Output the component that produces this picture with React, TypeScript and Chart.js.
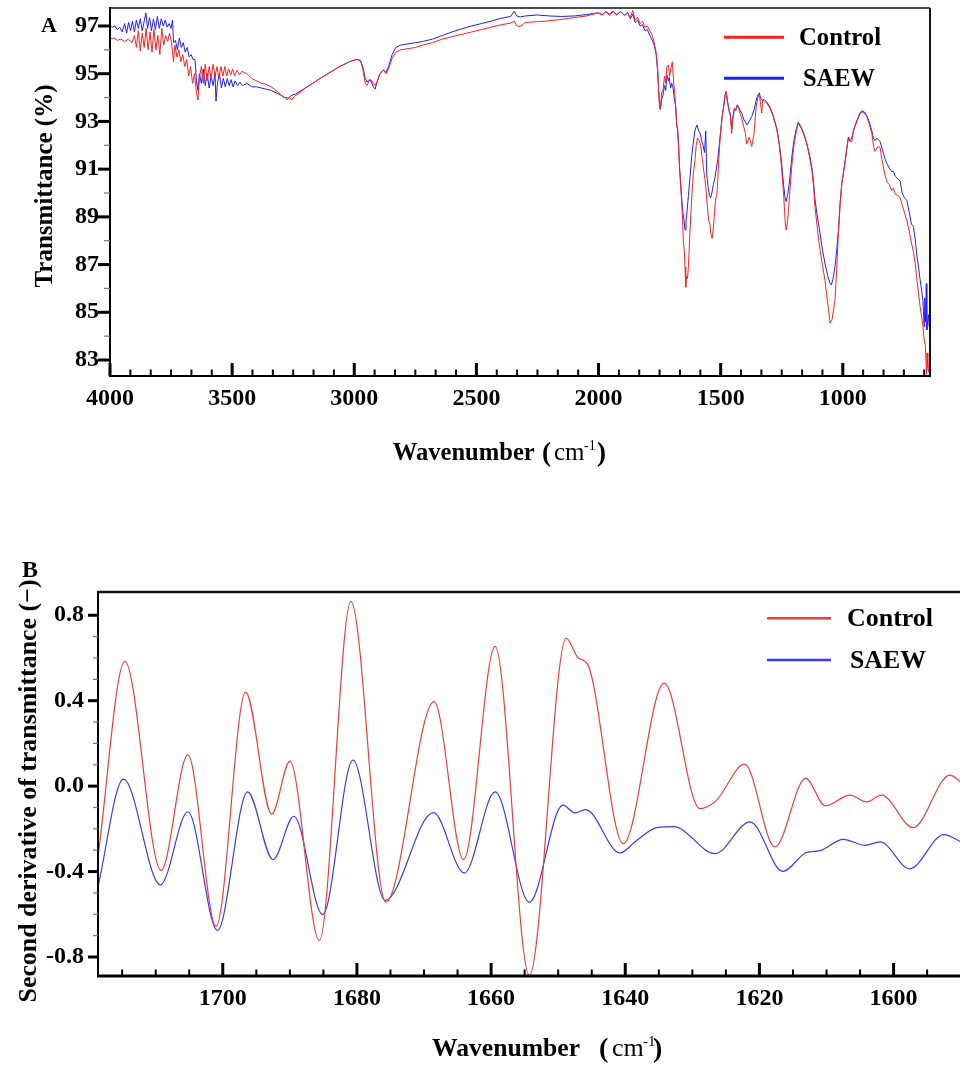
import React, { useEffect, useRef } from "react";
import { Chart, registerables } from "chart.js";

Chart.register(...registerables);

const SERIF = '"Liberation Serif", "Times New Roman", Times, serif';
const RED = "#ff1f1f";
const BLUE = "#1f1fff";
const RED_B = "#f23a3a";
const BLUE_B = "#3a3af2";
const seriesNames = ["Control", "SAEW"];

// ---------------- Panel A: FTIR spectra (wavenumber, transmittance %) ----------------
const ftirControl: [number, number][] = [
  [4000, 96.45], [3985, 96.5], [3970, 96.4], [3955, 96.45], [3940, 96.35], [3925, 96.45], [3910, 96.3],
  [3900, 96.6], [3892, 96.1], [3884, 96.8], [3876, 95.95], [3868, 96.7], [3860, 96.1], [3852, 96.9],
  [3844, 96.0], [3836, 96.75], [3828, 95.9], [3820, 96.85], [3812, 96.0], [3804, 96.6], [3796, 95.8],
  [3788, 96.9], [3780, 96.2], [3772, 96.6], [3764, 96.35], [3756, 96.7], [3748, 96.3], [3740, 95.5],
  [3734, 96.2], [3726, 95.7], [3718, 96.0], [3710, 95.5], [3702, 95.8], [3694, 95.3], [3686, 95.6],
  [3678, 94.9], [3670, 95.3], [3662, 94.6], [3654, 95.0], [3646, 94.2], [3640, 93.9], [3634, 94.8],
  [3626, 95.3], [3618, 94.6], [3610, 95.4], [3602, 94.7], [3594, 95.3], [3586, 94.8], [3578, 95.4],
  [3570, 94.9], [3562, 95.3], [3554, 94.8], [3546, 95.3], [3538, 94.9], [3530, 95.3], [3522, 94.9],
  [3514, 95.2], [3506, 94.95], [3498, 95.2], [3490, 94.9], [3480, 95.15], [3470, 94.95], [3460, 95.1],
  [3440, 95.0], [3420, 94.8], [3400, 94.7], [3380, 94.6], [3360, 94.55], [3340, 94.45], [3320, 94.3],
  [3300, 94.1], [3285, 94.0], [3275, 93.9], [3265, 94.0], [3255, 93.9], [3245, 94.05], [3230, 94.15],
  [3200, 94.4], [3170, 94.6], [3140, 94.8], [3100, 95.05], [3060, 95.3], [3020, 95.5], [2990, 95.6],
  [2975, 95.55], [2965, 95.2], [2955, 94.6], [2948, 94.5], [2940, 94.7], [2932, 94.75], [2922, 94.6],
  [2915, 94.5], [2905, 94.7], [2895, 95.0], [2880, 95.15], [2870, 95.0], [2860, 95.2], [2845, 95.65],
  [2830, 95.9], [2810, 96.0], [2780, 96.05], [2750, 96.1], [2720, 96.2], [2680, 96.3], [2640, 96.45],
  [2600, 96.55], [2560, 96.65], [2520, 96.75], [2480, 96.85], [2440, 96.95], [2400, 97.05], [2360, 97.12],
  [2345, 97.2], [2335, 97.0], [2320, 96.98], [2300, 97.15], [2250, 97.18], [2200, 97.22], [2150, 97.28],
  [2100, 97.35], [2050, 97.42], [2020, 97.5], [2000, 97.55], [1985, 97.45], [1970, 97.6], [1955, 97.45],
  [1940, 97.6], [1925, 97.45], [1910, 97.62], [1895, 97.45], [1880, 97.55], [1870, 97.35], [1860, 97.65],
  [1850, 97.25], [1840, 97.35], [1830, 97.1], [1820, 97.2], [1810, 96.95], [1800, 97.0], [1790, 96.8],
  [1780, 96.6], [1772, 96.3], [1764, 95.9], [1758, 95.2], [1754, 94.4], [1750, 93.6], [1747, 93.5],
  [1742, 94.2], [1736, 94.3], [1730, 94.9], [1725, 94.6], [1720, 95.3], [1714, 95.37], [1709, 94.9],
  [1704, 95.2], [1698, 95.5], [1692, 94.6], [1688, 94.2], [1684, 93.6], [1680, 92.9], [1676, 92.7],
  [1673, 92.1], [1668, 91.0], [1664, 90.3], [1660, 89.7], [1656, 88.9], [1653, 88.0], [1649, 87.6],
  [1646, 86.9], [1643, 86.05], [1640, 86.5], [1636, 86.4], [1632, 86.9], [1626, 88.3], [1619, 89.7],
  [1612, 90.8], [1605, 91.4], [1600, 92.0], [1595, 92.3], [1588, 92.2], [1582, 92.0], [1576, 91.5],
  [1570, 91.0], [1565, 90.6], [1561, 90.25], [1555, 89.5], [1549, 88.85], [1544, 88.7], [1540, 88.3],
  [1535, 88.1], [1530, 88.5], [1525, 89.2], [1521, 89.7], [1515, 90.0], [1510, 90.9], [1505, 91.9],
  [1500, 92.5], [1494, 93.2], [1488, 93.6], [1482, 94.1], [1478, 94.25], [1472, 93.8], [1466, 93.45],
  [1460, 93.2], [1455, 92.5], [1450, 93.1], [1444, 93.5], [1438, 93.45], [1432, 93.65], [1426, 93.55],
  [1420, 93.3], [1414, 93.15], [1406, 92.8], [1400, 92.55], [1393, 92.05], [1383, 92.35], [1373, 91.95],
  [1363, 92.5], [1355, 93.6], [1348, 94.0], [1342, 94.15], [1336, 93.7], [1332, 93.35], [1328, 93.9],
  [1320, 93.85], [1310, 93.75], [1298, 93.55], [1285, 93.2], [1270, 92.65], [1260, 92.0], [1250, 91.0],
  [1242, 89.9], [1236, 88.8], [1232, 88.45], [1226, 88.8], [1218, 89.9], [1210, 91.0], [1200, 92.0],
  [1190, 92.6], [1182, 92.92], [1170, 92.7], [1160, 92.45], [1148, 92.08], [1138, 91.6], [1127, 91.0],
  [1120, 90.3], [1114, 89.43], [1104, 88.5], [1093, 87.6], [1083, 86.95], [1073, 86.35], [1062, 85.4],
  [1052, 84.55], [1044, 84.7], [1032, 85.5], [1025, 86.8], [1018, 88.3], [1011, 89.5], [1004, 90.4],
  [997, 90.85], [991, 91.25], [984, 91.8], [977, 92.3], [970, 92.15], [963, 92.15], [956, 92.6],
  [950, 92.78], [940, 93.05], [930, 93.3], [922, 93.4], [912, 93.35], [902, 93.2], [892, 92.9],
  [881, 92.5], [874, 91.95], [868, 91.75], [860, 91.9], [852, 91.95], [847, 91.9], [840, 91.4],
  [832, 91.0], [826, 90.7], [818, 90.45], [810, 90.35], [800, 90.1], [793, 90.2], [785, 89.95],
  [775, 89.9], [765, 89.8], [757, 89.5], [748, 89.2], [738, 88.85], [728, 88.4], [719, 87.9],
  [711, 87.55], [703, 87.0], [697, 86.4], [690, 85.8], [683, 85.2], [677, 84.8], [672, 84.4],
  [667, 83.85], [662, 83.6], [657, 82.4], [655, 83.3], [652, 82.7], [648, 82.5], [645, 83.1], [643, 82.4],
];

const ftirSaew: [number, number][] = [
  [4000, 97.0], [3990, 96.95], [3980, 97.0], [3970, 96.85], [3960, 96.95], [3950, 96.75], [3940, 97.1],
  [3932, 96.7], [3924, 97.15], [3916, 96.8], [3908, 97.2], [3900, 96.75], [3892, 97.25], [3884, 96.9],
  [3876, 97.3], [3868, 96.8], [3860, 97.2], [3853, 97.55], [3846, 96.9], [3838, 97.35], [3830, 96.8],
  [3822, 97.3], [3814, 96.85], [3806, 97.4], [3798, 96.9], [3790, 97.3], [3782, 97.0], [3774, 97.25],
  [3766, 96.95], [3758, 97.1], [3750, 96.9], [3744, 97.25], [3740, 96.3], [3732, 96.4], [3724, 96.0],
  [3716, 96.5], [3708, 96.1], [3700, 96.3], [3692, 95.9], [3684, 96.1], [3676, 95.7], [3668, 95.8],
  [3660, 95.6], [3652, 95.6], [3646, 94.7], [3640, 94.3], [3634, 95.0], [3626, 94.6], [3618, 95.2],
  [3610, 94.5], [3602, 95.0], [3594, 94.4], [3586, 94.9], [3578, 94.5], [3570, 95.0], [3566, 93.85],
  [3560, 94.6], [3552, 95.0], [3544, 94.4], [3536, 94.8], [3528, 94.45], [3520, 94.8], [3512, 94.5],
  [3504, 94.75], [3496, 94.45], [3488, 94.7], [3478, 94.5], [3468, 94.65], [3458, 94.5], [3440, 94.6],
  [3420, 94.45], [3400, 94.45], [3380, 94.4], [3360, 94.35], [3340, 94.3], [3320, 94.2], [3300, 94.1],
  [3285, 94.0], [3270, 93.98], [3255, 94.1], [3240, 94.15], [3200, 94.4], [3170, 94.6], [3140, 94.8],
  [3100, 95.05], [3060, 95.3], [3020, 95.5], [2990, 95.6], [2975, 95.55], [2965, 95.3], [2955, 94.8],
  [2948, 94.65], [2940, 94.75], [2932, 94.7], [2922, 94.45], [2915, 94.35], [2905, 94.7], [2895, 95.0],
  [2880, 95.15], [2870, 95.05], [2860, 95.3], [2845, 95.8], [2830, 96.1], [2810, 96.2], [2780, 96.25],
  [2750, 96.3], [2720, 96.35], [2680, 96.45], [2640, 96.6], [2600, 96.75], [2560, 96.88], [2520, 97.0],
  [2480, 97.1], [2440, 97.2], [2400, 97.32], [2360, 97.4], [2345, 97.62], [2335, 97.42], [2320, 97.38],
  [2300, 97.42], [2250, 97.46], [2200, 97.42], [2150, 97.4], [2100, 97.42], [2050, 97.48], [2020, 97.52],
  [2000, 97.55], [1985, 97.48], [1970, 97.6], [1955, 97.5], [1940, 97.62], [1925, 97.48], [1910, 97.6],
  [1895, 97.45], [1880, 97.55], [1870, 97.3], [1860, 97.5], [1850, 97.15], [1840, 97.25], [1830, 97.0],
  [1820, 97.05], [1810, 96.8], [1800, 96.85], [1790, 96.6], [1780, 96.4], [1772, 96.2], [1764, 95.8],
  [1758, 95.1], [1754, 94.3], [1750, 93.6], [1747, 93.5], [1742, 93.9], [1736, 94.1], [1730, 94.5],
  [1725, 94.3], [1720, 94.95], [1714, 94.7], [1710, 94.85], [1705, 94.4], [1700, 94.6], [1695, 94.4],
  [1690, 94.0], [1684, 93.6], [1680, 92.85], [1676, 92.6], [1673, 92.1], [1668, 91.0], [1664, 90.5],
  [1660, 89.85], [1655, 89.2], [1650, 88.87], [1646, 88.45], [1642, 88.8], [1637, 89.3], [1632, 89.9],
  [1626, 90.6], [1619, 91.5], [1612, 92.1], [1605, 92.64], [1597, 92.85], [1590, 92.6], [1584, 92.5],
  [1578, 92.2], [1572, 92.0], [1566, 91.7], [1561, 92.6], [1557, 90.8], [1552, 90.3], [1546, 89.9],
  [1541, 89.8], [1536, 90.0], [1530, 90.35], [1524, 90.6], [1518, 91.0], [1512, 91.4], [1506, 92.0],
  [1500, 92.6], [1494, 93.2], [1488, 93.6], [1482, 94.1], [1478, 94.25], [1472, 93.85], [1466, 93.5],
  [1460, 93.3], [1455, 92.7], [1450, 93.2], [1444, 93.55], [1438, 93.5], [1432, 93.7], [1426, 93.6],
  [1420, 93.45], [1414, 93.35], [1406, 93.1], [1400, 93.0], [1393, 92.85], [1383, 93.0], [1373, 93.2],
  [1363, 93.5], [1352, 94.0], [1342, 94.2], [1336, 93.95], [1330, 93.9], [1320, 93.9], [1310, 93.8],
  [1298, 93.6], [1285, 93.25], [1270, 92.7], [1260, 92.1], [1250, 91.2], [1242, 90.3], [1236, 89.8],
  [1232, 89.64], [1226, 89.9], [1218, 90.5], [1210, 91.4], [1200, 92.2], [1190, 92.7], [1182, 92.97],
  [1170, 92.75], [1160, 92.5], [1148, 92.1], [1138, 91.7], [1127, 91.1], [1120, 90.5], [1114, 89.75],
  [1104, 89.0], [1093, 88.3], [1083, 87.6], [1073, 87.06], [1062, 86.55], [1052, 86.2], [1047, 86.15],
  [1040, 86.4], [1032, 86.9], [1025, 87.6], [1018, 88.4], [1011, 89.6], [1004, 90.4], [997, 90.9],
  [991, 91.3], [984, 91.85], [977, 92.35], [970, 92.2], [963, 92.3], [956, 92.65], [950, 92.82],
  [940, 93.1], [930, 93.35], [922, 93.45], [912, 93.4], [902, 93.25], [892, 93.0], [881, 92.6],
  [875, 92.3], [868, 92.2], [860, 92.3], [852, 92.2], [847, 92.15], [840, 91.9], [832, 91.6],
  [826, 91.4], [818, 91.2], [810, 91.05], [800, 90.9], [793, 90.9], [785, 90.7], [775, 90.6],
  [765, 90.5], [757, 90.0], [748, 89.8], [738, 89.7], [728, 89.2], [719, 88.7], [711, 88.6],
  [703, 88.0], [697, 87.4], [690, 86.9], [684, 86.4], [677, 85.9], [672, 85.5], [667, 84.4],
  [665, 85.6], [662, 84.6], [658, 86.2], [656, 84.26], [652, 84.6], [649, 84.9], [646, 84.4], [643, 85.0],
];

const ftirXTicks = [4000, 3500, 3000, 2500, 2000, 1500, 1000];
const ftirYTicks = [83, 85, 87, 89, 91, 93, 95, 97];
const ftirXRange = [643, 4000];
const ftirYRange = [82.33, 97.754];

// ---------------- Panel B: second derivative (wavenumber, value) ----------------
const d2Control: [number, number][] = [
  [1718.6, -0.33], [1714.6, 0.584], [1709.2, -0.394], [1705.2, 0.146], [1701.0, -0.657],
  [1696.6, 0.44], [1692.7, -0.131], [1690.0, 0.117], [1685.6, -0.723], [1680.9, 0.865],
  [1675.7, -0.543], [1668.5, 0.396], [1664.1, -0.344], [1659.4, 0.654], [1654.3, -0.887],
  [1648.8, 0.693], [1647.0, 0.6], [1645.6, 0.57], [1640.3, -0.269], [1634.2, 0.482],
  [1628.9, -0.105], [1626.5, -0.07], [1622.2, 0.103], [1617.7, -0.285], [1613.1, 0.036],
  [1610.2, -0.092], [1606.5, -0.042], [1604.0, -0.074], [1601.8, -0.042], [1597.1, -0.194],
  [1591.6, 0.052], [1590.0, 0.02],
];

const d2Saew: [number, number][] = [
  [1718.6, -0.47], [1714.8, 0.033], [1709.3, -0.462], [1705.2, -0.12], [1700.8, -0.676],
  [1696.3, -0.027], [1692.5, -0.344], [1689.4, -0.141], [1685.1, -0.602], [1680.6, 0.122],
  [1675.8, -0.535], [1668.6, -0.124], [1664.0, -0.407], [1659.4, -0.027], [1654.3, -0.543],
  [1649.3, -0.089], [1647.5, -0.125], [1645.9, -0.11], [1640.8, -0.313], [1638.3, -0.254],
  [1635.3, -0.194], [1632.8, -0.19], [1626.6, -0.316], [1621.4, -0.167], [1616.5, -0.399],
  [1613.0, -0.311], [1611.0, -0.302], [1607.5, -0.249], [1604.3, -0.277], [1602.0, -0.261],
  [1597.6, -0.387], [1592.5, -0.227], [1590.0, -0.26],
];

const d2XTicks = [1700, 1680, 1660, 1640, 1620, 1600];
const d2YTicks = [-0.8, -0.4, 0, 0.4, 0.8];
const d2XRange = [1590.1, 1718.6];
const d2YRange = [-0.889, 0.909];

// ---------------- helpers ----------------
type Pt = [number, number];
const toXY = (arr: Pt[]) => arr.map(([x, y]) => ({ x, y }));

function fitText(ctx: CanvasRenderingContext2D, text: string, x: number, y: number, w: number, font: string) {
  ctx.save();
  ctx.font = font;
  const nat = ctx.measureText(text).width;
  ctx.translate(x, y);
  ctx.scale(w / nat, 1);
  ctx.textAlign = "left";
  ctx.textBaseline = "alphabetic";
  ctx.fillStyle = "#000";
  ctx.fillText(text, 0, 0);
  ctx.restore();
}

function fitTextVertical(ctx: CanvasRenderingContext2D, text: string, baseX: number, cy: number, len: number, font: string) {
  ctx.save();
  ctx.font = font;
  const nat = ctx.measureText(text).width;
  ctx.translate(baseX, cy);
  ctx.rotate(-Math.PI / 2);
  ctx.scale(len / nat, 1);
  ctx.textAlign = "center";
  ctx.textBaseline = "alphabetic";
  ctx.fillStyle = "#000";
  ctx.fillText(text, 0, 0);
  ctx.restore();
}

function plainText(ctx: CanvasRenderingContext2D, text: string, x: number, y: number, font: string) {
  ctx.save();
  ctx.font = font;
  ctx.textAlign = "left";
  ctx.textBaseline = "alphabetic";
  ctx.fillStyle = "#000";
  ctx.fillText(text, x, y);
  ctx.restore();
}

interface Decor {
  oy: number;
  letter: { t: string; x: number; y: number; size: number };
  yTitle: { t: string; x: number; cy: number; len: number; size: number };
  xTitle: { x: number; w: number; y: number; size: number; paren: number; cm: number; sup: number; close: number };
  legend: { x1: number; x2: number; ys: number[]; tx: number[]; tw: number[]; size: number; lw: number; cols: string[] };
  xMinor: number[];
  yMinor: number[];
  xMajor: number[];
  yMajor: number[];
  borders: { top: number; right: number | null; left: number; bottom: number };
  yMajorLen: number;
  yMinorLen: number;
}

function makePlugin(d: Decor) {
  return {
    id: "decor",
    afterDraw(chart: any) {
      const ctx: CanvasRenderingContext2D = chart.ctx;
      const { left, right, top, bottom } = chart.chartArea;
      const xs = chart.scales.x;
      const ys = chart.scales.y;
      const oy = d.oy;
      ctx.save();
      ctx.fillStyle = "#111";
      ctx.fillRect(left, top - d.borders.top / 2, right - left, d.borders.top);
      if (d.borders.right !== null) ctx.fillRect(right - d.borders.right / 2, top, d.borders.right, bottom - top);
      ctx.fillStyle = "#000";
      ctx.fillRect(left - d.borders.left / 2, top - 1, d.borders.left, bottom - top + 2);
      ctx.fillRect(left - 1, bottom - d.borders.bottom / 2, right - left + 2, d.borders.bottom);
      for (const v of d.xMajor) {
        const px = xs.getPixelForValue(v);
        ctx.fillRect(px - 1.5, bottom - 13, 3, 13);
      }
      for (const v of d.xMinor) {
        const px = xs.getPixelForValue(v);
        if (px < left + 1 || px > right - 1) continue;
        ctx.fillRect(px - 1, bottom - 6.5, 2, 6.5);
      }
      for (const v of d.yMajor) {
        const py = ys.getPixelForValue(v);
        ctx.fillRect(left - d.yMajorLen, py - 1.5, d.yMajorLen, 3);
      }
      ctx.fillStyle = "#777";
      for (const v of d.yMinor) {
        const py = ys.getPixelForValue(v);
        ctx.fillRect(left - d.yMinorLen, py - 0.6, d.yMinorLen, 1.2);
      }
      plainText(ctx, d.letter.t, d.letter.x, d.letter.y - oy, `bold ${d.letter.size}px ${SERIF}`);
      fitTextVertical(ctx, d.yTitle.t, d.yTitle.x, d.yTitle.cy - oy, d.yTitle.len, `bold ${d.yTitle.size}px ${SERIF}`);
      const xt = d.xTitle;
      fitText(ctx, "Wavenumber", xt.x, xt.y - oy, xt.w, `bold ${xt.size}px ${SERIF}`);
      plainText(ctx, "(", xt.paren, xt.y - oy + 1, `bold ${xt.size + 2}px ${SERIF}`);
      plainText(ctx, "cm", xt.cm, xt.y - oy, `${xt.size}px ${SERIF}`);
      plainText(ctx, "-1", xt.sup, xt.y - oy - 10, `${Math.round(xt.size * 0.56)}px ${SERIF}`);
      plainText(ctx, ")", xt.close, xt.y - oy + 1, `bold ${xt.size + 2}px ${SERIF}`);
      const lg = d.legend;
      lg.ys.forEach((ly, i) => {
        ctx.strokeStyle = lg.cols[i];
        ctx.lineWidth = lg.lw;
        ctx.beginPath();
        ctx.moveTo(lg.x1, ly - oy);
        ctx.lineTo(lg.x2, ly - oy);
        ctx.stroke();
        fitText(ctx, seriesNames[i], lg.tx[i], ly - oy + 8, lg.tw[i], `bold ${lg.size}px ${SERIF}`);
      });
      ctx.restore();
    },
  };
}

function minorBetween(majors: number[], step: number, lo: number, hi: number, isMajor: (v: number) => boolean) {
  const out: number[] = [];
  const start = Math.max(...majors);
  for (let k = -20; k < 200; k++) {
    const v = start - k * step;
    if (v < lo - 1e-6 || v > hi + 1e-6) continue;
    if (isMajor(v)) continue;
    out.push(v);
  }
  return out;
}

function axisOpts(range: number[], ticks: number[], size: { w?: number; h?: number }, padding: number, fmt: (v: number) => string, reverse: boolean) {
  return {
    type: "linear" as const,
    reverse,
    min: range[0],
    max: range[1],
    afterBuildTicks: (s: any) => {
      s.ticks = ticks.map((v) => ({ value: v }));
    },
    afterFit: (s: any) => {
      if (size.w !== undefined) s.width = size.w;
      if (size.h !== undefined) s.height = size.h;
      s.paddingTop = 0;
      s.paddingBottom = 0;
      s.paddingLeft = 0;
      s.paddingRight = 0;
    },
    grid: { display: false, drawTicks: false },
    border: { display: false },
    ticks: {
      autoSkip: false,
      maxRotation: 0,
      padding,
      color: "#000",
      font: { family: SERIF, size: 24, weight: "bold" as const },
      callback: (v: any) => fmt(Number(v)),
    },
  };
}

function PanelA() {
  const ref = useRef<HTMLCanvasElement>(null);
  useEffect(() => {
    const decor: Decor = {
      oy: 0,
      letter: { t: "A", x: 41, y: 32, size: 22 },
      yTitle: { t: "Transmittance (%)", x: 52, cy: 186, len: 203, size: 26 },
      xTitle: { x: 392.7, w: 142, y: 460, size: 25, paren: 542, cm: 554, sup: 584, close: 597 },
      legend: { x1: 724, x2: 784, ys: [37.3, 78.3], tx: [799, 803], tw: [82, 72], size: 25, lw: 3, cols: [RED, BLUE] },
      xMajor: ftirXTicks,
      xMinor: minorBetween(ftirXTicks, 500 / 6, ftirXRange[0], ftirXRange[1], (v) => Math.abs(v % 500) < 1e-6),
      yMajor: ftirYTicks,
      yMinor: ftirYTicks.slice(0, -1).map((v) => v + 1),
      borders: { top: 1.5, right: 2, left: 2, bottom: 2 },
      yMajorLen: 12,
      yMinorLen: 6,
    };
    const chart = new Chart(ref.current!, {
      type: "line",
      data: {
        datasets: [
          { label: seriesNames[0], data: toXY(ftirControl), borderColor: RED, borderWidth: 1, pointRadius: 0, tension: 0 },
          { label: seriesNames[1], data: toXY(ftirSaew), borderColor: BLUE, borderWidth: 1, pointRadius: 0, tension: 0 },
        ],
      },
      options: {
        responsive: false,
        animation: false,
        devicePixelRatio: 1,
        events: [],
        layout: { padding: { top: 8, right: 30, left: 0, bottom: 0 } },
        plugins: { legend: { display: false }, tooltip: { enabled: false } },
        scales: {
          x: axisOpts(ftirXRange, ftirXTicks, { h: 104 }, 8, (v) => String(v), true),
          y: axisOpts(ftirYRange, ftirYTicks, { w: 110 }, 11, (v) => String(v), false),
        },
      } as any,
      plugins: [makePlugin(decor)],
    });
    return () => chart.destroy();
  }, []);
  return <canvas ref={ref} width={960} height={480} style={{ position: "absolute", left: 0, top: 0, width: 960, height: 480 }} />;
}

function PanelB() {
  const ref = useRef<HTMLCanvasElement>(null);
  useEffect(() => {
    const OY = 530;
    const decor: Decor = {
      oy: OY,
      letter: { t: "B", x: 22, y: 577, size: 24 },
      yTitle: { t: "Second derivative of transmittance (\u2212)", x: 36, cy: 791, len: 423, size: 26 },
      xTitle: { x: 432, w: 148, y: 1056, size: 26, paren: 599, cm: 612, sup: 643, close: 653 },
      legend: { x1: 767, x2: 831, ys: [618.3, 660], tx: [847, 850], tw: [86, 76], size: 26, lw: 2.5, cols: [RED_B, BLUE_B] },
      xMajor: d2XTicks,
      xMinor: minorBetween(d2XTicks, 5, d2XRange[0], d2XRange[1], (v) => Math.abs(v % 20) < 1e-6),
      yMajor: d2YTicks,
      yMinor: [-0.7, -0.6, -0.5, -0.3, -0.2, -0.1, 0.1, 0.2, 0.3, 0.5, 0.6, 0.7],
      borders: { top: 2.5, right: null, left: 2, bottom: 3 },
      yMajorLen: 10,
      yMinorLen: 5,
    };
    const chart = new Chart(ref.current!, {
      type: "line",
      data: {
        datasets: [
          { label: seriesNames[0], data: toXY(d2Control), borderColor: RED_B, borderWidth: 1.2, pointRadius: 0, cubicInterpolationMode: "monotone" },
          { label: seriesNames[1], data: toXY(d2Saew), borderColor: BLUE_B, borderWidth: 1.2, pointRadius: 0, cubicInterpolationMode: "monotone" },
        ],
      },
      options: {
        responsive: false,
        animation: false,
        devicePixelRatio: 1,
        events: [],
        layout: { padding: { top: 592 - OY, right: 0, left: 0, bottom: 0 } },
        plugins: { legend: { display: false }, tooltip: { enabled: false } },
        scales: {
          x: axisOpts(d2XRange, d2XTicks, { h: 536 - (976 - OY) }, 8, (v) => String(v), true),
          y: axisOpts(d2YRange, d2YTicks, { w: 98 }, 14, (v) => v.toFixed(1), false),
        },
      } as any,
      plugins: [makePlugin(decor)],
    });
    return () => chart.destroy();
  }, []);
  return <canvas ref={ref} width={960} height={536} style={{ position: "absolute", left: 0, top: 530, width: 960, height: 536 }} />;
}

export default function App() {
  return (
    <div style={{ position: "absolute", left: 0, top: 0, width: 960, height: 1066, background: "#fff", overflow: "hidden" }}>
      <PanelA />
      <PanelB />
    </div>
  );
}
